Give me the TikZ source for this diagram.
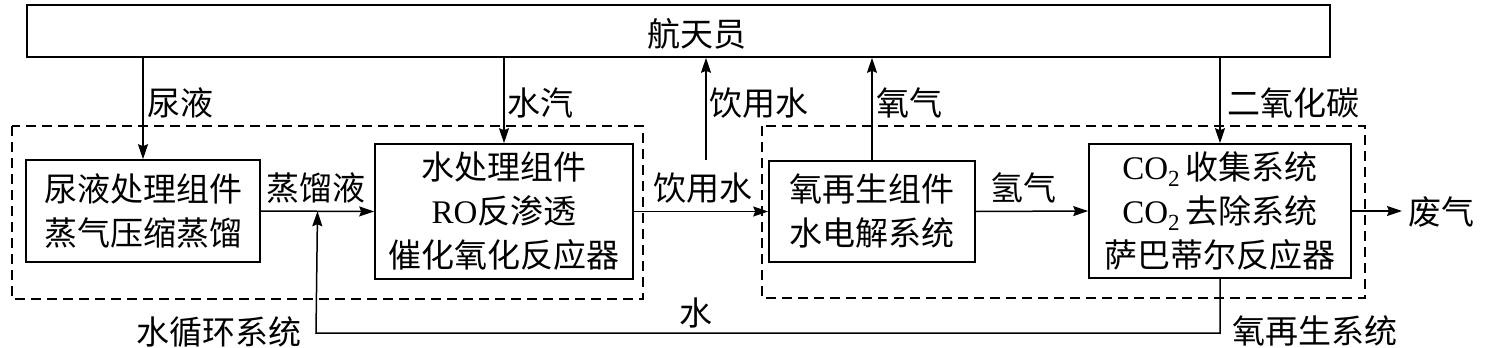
\documentclass[tikz,border=0pt]{standalone}
\usepackage{fontspec}
\setmainfont{Liberation Serif}
\newfontfamily\cjk{Noto Sans CJK SC}
\usetikzlibrary{arrows.meta,calc}
\newcommand{\la}[1]{{\rmfamily #1}}
\begin{document}
\begin{tikzpicture}[x=1pt,y=-1pt,
  every node/.style={font=\cjk\fontsize{33}{44}\selectfont, inner sep=0pt},
  box/.style={draw, line width=1.6pt, align=center},
  arr/.style={line width=1.5pt, -{Stealth[length=15pt,width=10pt,inset=2pt]}},
  ln/.style={line width=1.5pt},
  dbox/.style={line width=1.4pt, dash pattern=on 10pt off 6pt},
  lbl/.style={}]
\useasboundingbox (0,0) rectangle (1494,348);
% boxes
\node[box, minimum width=1303pt, minimum height=52pt] (crew) at (678.5,31) {};
\node[lbl] (crewt) at (697,34) {航天员};
\node[box, minimum width=234pt, minimum height=102pt] (b1) at (143,211) {尿液处理组件\\蒸气压缩蒸馏};
\node[box, minimum width=258pt, minimum height=135pt] (b2) at (504,211.5) {水处理组件\\\la{RO}反渗透\\催化氧化反应器};
\node[box, minimum width=206pt, minimum height=101pt] (b3) at (872,211.5) {氧再生组件\\水电解系统};
\node[box, minimum width=262pt, minimum height=134pt] (b4) at (1220,211) {\la{CO\textsubscript{2}}\,收集系统\\\la{CO\textsubscript{2}}\,去除系统\\萨巴蒂尔反应器};
% dashed system boxes
\draw[dbox] (12,126) rectangle (643,299);
\draw[dbox] (762,126) rectangle (1365,298);
% coordinates
\coordinate (dw) at (706,160);
\coordinate (j) at ($(b1.east)!0.5!(b2.west)$);
\coordinate (bot) at (316,333);
\coordinate (out) at (1402,211);
% connectors
\draw[arr] (crew.south -| b1.north) -- (b1.north);
\draw[arr] (crew.south -| b2.north) -- (b2.north);
\draw[arr] (dw) -- (crew.south -| dw);
\draw[arr] (b3.north) -- (crew.south -| b3.north);
\draw[arr] (crew.south -| b4.north) -- (b4.north);
\draw[arr] (b1.east) -- (b2.west);
\draw[arr] (b2.east) -- (b3.west);
\draw[arr] (b3.east) -- (b4.west);
\draw[arr] (b4.east) -- (out);
\draw[arr] (b4.south) |- (bot) -- (j);
% labels
\node (l1) at (180,103) {尿液};
\node (l2) at (540,103) {水汽};
\node (l3) at (759,103) {饮用水};
\node (l4) at (909,103) {氧气};
\node (l5) at (1293,103) {二氧化碳};
\node (l6) at (316,188) {蒸馏液};
\node (l7) at (703,188) {饮用水};
\node (l8) at (1023,188) {氢气};
\node (l9) at (1441,212) {废气};
\node (l10) at (696,313) {水};
\node (l11) at (219,332) {水循环系统};
\node (l12) at (1315,331) {氧再生系统};
\end{tikzpicture}
\end{document}
